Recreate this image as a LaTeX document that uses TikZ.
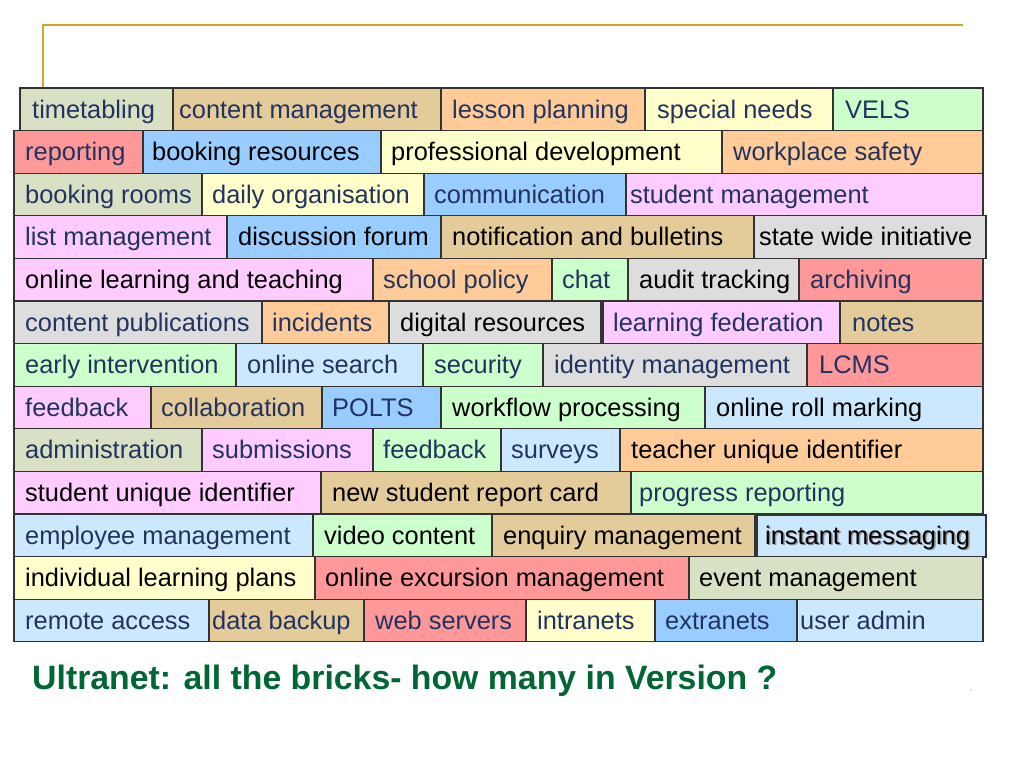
\documentclass[tikz,border=0pt]{standalone}
\usepackage{fontspec}
\setmainfont{Liberation Sans}
\definecolor{tan}{HTML}{E3CB9A}
\definecolor{peach}{HTML}{FFCC99}
\definecolor{rose}{HTML}{FF9999}
\definecolor{sky}{HTML}{99CCFF}
\definecolor{lsky}{HTML}{CCE8FF}
\definecolor{lyel}{HTML}{FFFFCC}
\definecolor{lgrn}{HTML}{CCFFCC}
\definecolor{lpink}{HTML}{FFCCFF}
\definecolor{lgray}{HTML}{DDDDDD}
\definecolor{sage}{HTML}{D9E1C5}
\definecolor{navy}{HTML}{22335F}
\definecolor{gold}{HTML}{CFA52A}
\definecolor{titlegreen}{HTML}{006633}
\definecolor{edge}{HTML}{333333}
\tikzset{
  brick/.style={draw=edge,line width=1.2pt},
  lbl/.style={anchor=base west,inner sep=0pt,font=\fontsize{25.4}{30}\selectfont},
}
\newcommand\bk[8]{%
  \path[brick,fill=#2] (#4,#6) rectangle (#5,#6+42.6);
  \node[lbl,text=#3] (#1) at (#7,#6+30) {#8};}
\begin{document}
\begin{tikzpicture}[x=1pt,y=-1pt]
\useasboundingbox (0,0) rectangle (1024,768);
\fill[white] (0,0) rectangle (1024,768);
% gold frame line
\coordinate (g1) at (43,88);
\coordinate (g2) at (43,25);
\coordinate (g3) at (963,25);
\draw[gold,line width=2pt] (g1) -- (g2) -- (g3);
% row 1
\bk{r1a}{sage}{navy}{20}{173}{88}{32}{timetabling}
\bk{r1b}{tan}{navy}{173}{441}{88}{179}{content management}
\bk{r1c}{peach}{navy}{441}{645}{88}{452}{lesson planning}
\bk{r1d}{lyel}{navy}{645}{833}{88}{657}{special needs}
\bk{r1e}{lgrn}{navy}{833}{983}{88}{845}{VELS}
% row 2
\bk{r2a}{rose}{navy}{14}{143}{130.6}{25}{reporting}
\bk{r2b}{sky}{black}{143}{381}{130.6}{152}{booking resources}
\bk{r2c}{lyel}{black}{381}{722}{130.6}{391}{professional development}
\bk{r2d}{peach}{navy}{722}{983}{130.6}{733}{workplace safety}
% row 3
\bk{r3a}{sage}{navy}{14}{202}{173.2}{25}{booking rooms}
\bk{r3b}{lyel}{navy}{202}{424}{173.2}{212}{daily organisation}
\bk{r3c}{sky}{navy}{424}{626}{173.2}{434}{communication}
\bk{r3d}{lpink}{navy}{626}{983}{173.2}{630}{student management}
% row 4
\bk{r4a}{lpink}{navy}{14}{227}{215.8}{25}{list management}
\bk{r4b}{sky}{black}{227}{441}{215.8}{238}{discussion forum}
\bk{r4c}{tan}{black}{441}{754}{215.8}{452}{notification and bulletins}
\bk{r4d}{lgray}{black}{754}{986}{215.8}{759}{state wide initiative}
% row 5
\bk{r5a}{lpink}{black}{14}{373}{258.4}{25}{online learning and teaching}
\bk{r5b}{peach}{navy}{373}{552}{258.4}{383}{school policy}
\bk{r5c}{lgrn}{navy}{552}{628}{258.4}{562}{chat}
\bk{r5d}{lgray}{black}{628}{799}{258.4}{639}{audit tracking}
\bk{r5e}{rose}{navy}{799}{983}{258.4}{810}{archiving}
% row 6
\bk{r6a}{lgray}{navy}{14}{262}{301}{25}{content publications}
\bk{r6b}{peach}{navy}{262}{389}{301}{272}{incidents}
\bk{r6c}{lgray}{black}{389}{601}{301}{400}{digital resources}
\bk{r6d}{lpink}{navy}{603}{840}{301}{613}{learning federation}
\bk{r6e}{tan}{navy}{840}{983}{301}{852}{notes}
% row 7
\bk{r7a}{lgrn}{navy}{14}{236}{343.6}{25}{early intervention}
\bk{r7b}{lsky}{navy}{236}{423}{343.6}{247}{online search}
\bk{r7c}{lgrn}{navy}{423}{543}{343.6}{434}{security}
\bk{r7d}{lgray}{navy}{543}{807}{343.6}{554}{identity management}
\bk{r7e}{rose}{navy}{807}{983}{343.6}{819}{LCMS}
% row 8
\bk{r8a}{lpink}{navy}{14}{151}{386.2}{25}{feedback}
\bk{r8b}{tan}{navy}{151}{322}{386.2}{161}{collaboration}
\bk{r8c}{sky}{navy}{322}{441}{386.2}{332}{POLTS}
\bk{r8d}{lgrn}{black}{441}{705}{386.2}{452}{workflow processing}
\bk{r8e}{lsky}{black}{705}{983}{386.2}{716}{online roll marking}
% row 9
\bk{r9a}{sage}{navy}{14}{202}{428.8}{25}{administration}
\bk{r9b}{lpink}{navy}{202}{373}{428.8}{212}{submissions}
\bk{r9c}{lgrn}{navy}{373}{501}{428.8}{383}{feedback}
\bk{r9d}{lsky}{navy}{501}{620}{428.8}{511}{surveys}
\bk{r9e}{peach}{black}{620}{983}{428.8}{631}{teacher unique identifier}
% row 10
\bk{r10a}{lpink}{black}{14}{321}{471.4}{25}{student unique identifier}
\bk{r10b}{tan}{black}{321}{631}{471.4}{332}{new student report card}
\bk{r10c}{lgrn}{navy}{631}{983}{471.4}{639}{progress reporting}
% row 11
\bk{r11a}{lsky}{navy}{14}{313}{514}{25}{employee management}
\bk{r11b}{lgrn}{black}{313}{492}{514}{324}{video content}
\bk{r11c}{tan}{black}{492}{755}{514}{503}{enquiry management}
\path[brick,fill=lsky] (757,515) rectangle (986,557);
\node[lbl,text=black!45] (r11s) at (766.5,545.5) {instant messaging};
\node[lbl,text=black] (r11d) at (765,544) {instant messaging};
% row 12
\bk{r12a}{lyel}{black}{14}{315}{556.6}{25}{individual learning plans}
\bk{r12b}{rose}{black}{315}{689}{556.6}{325}{online excursion management}
\bk{r12c}{sage}{black}{689}{983}{556.6}{699}{event management}
% row 13
\bk{r13a}{lsky}{navy}{14}{209}{599.2}{25}{remote access}
\bk{r13b}{tan}{navy}{209}{364}{599.2}{212}{data backup}
\bk{r13c}{rose}{navy}{364}{526}{599.2}{375}{web servers}
\bk{r13d}{lyel}{navy}{526}{655}{599.2}{537}{intranets}
\bk{r13e}{sky}{navy}{655}{797}{599.2}{665}{extranets}
\bk{r13f}{lsky}{navy}{797}{983}{599.2}{800}{user admin}
% title
\node[anchor=base west,inner sep=0pt,text=titlegreen,font=\fontsize{33.8}{40}\selectfont\bfseries] (title) at (32,689) {Ultranet: all the bricks- how many in Version ?};
\fill[gold!70] (971,690) circle (0.9);
\end{tikzpicture}
\end{document}
